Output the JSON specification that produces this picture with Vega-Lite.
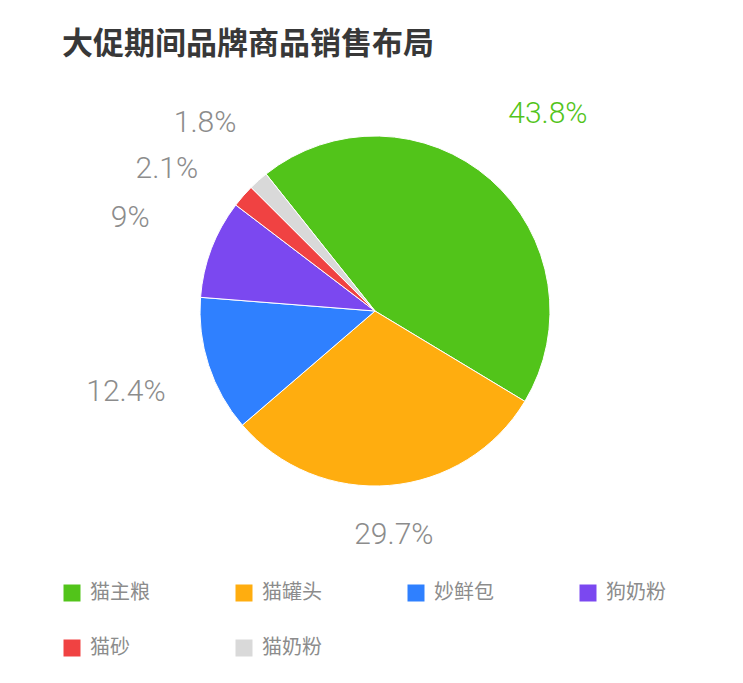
{
  "$schema": "https://vega.github.io/schema/vega-lite/v6.json",
  "width": 736,
  "height": 422,
  "autosize": {"type": "none"},
  "padding": {"left": 7, "top": 100, "right": 0, "bottom": 161},
  "background": "white",
  "title": {
    "text": "大促期间品牌商品销售布局",
    "anchor": "start",
    "dx": 55,
    "offset": 38,
    "fontSize": 31,
    "fontWeight": "bold",
    "color": "#383838",
    "font": "Noto Sans CJK SC"
  },
  "data": {
    "values": [
      {"idx": 1, "category": "猫主粮", "share": 0.438},
      {"idx": 2, "category": "猫罐头", "share": 0.297},
      {"idx": 3, "category": "妙鲜包", "share": 0.124},
      {"idx": 4, "category": "狗奶粉", "share": 0.09},
      {"idx": 5, "category": "猫砂", "share": 0.021},
      {"idx": 6, "category": "猫奶粉", "share": 0.018}
    ]
  },
  "encoding": {
    "theta": {"field": "share", "type": "quantitative", "stack": true, "scale": {"range": [-0.672, 5.611]}},
    "order": {"field": "idx", "type": "quantitative"}
  },
  "layer": [
    {
      "mark": {"type": "arc", "outerRadius": 175, "stroke": "white", "strokeWidth": 1},
      "encoding": {
        "color": {
          "field": "category",
          "type": "nominal",
          "sort": null,
          "scale": {
            "domain": ["猫主粮", "猫罐头", "妙鲜包", "狗奶粉", "猫砂", "猫奶粉"],
            "range": ["#52c41a", "#ffad0f", "#2f80ff", "#7b48f0", "#f04242", "#d9d9d9"]
          },
          "legend": {
            "title": null,
            "orient": "none",
            "legendX": 55,
            "legendY": 483,
            "direction": "horizontal",
            "columns": 4,
            "symbolType": "square",
            "symbolSize": 289,
            "symbolStrokeWidth": 0,
            "labelFontSize": 20,
            "labelColor": "#8c8c8c",
            "labelFont": "Noto Sans CJK SC",
            "labelOffset": 8,
            "columnPadding": 84,
            "rowPadding": 35,
            "padding": 0
          }
        }
      }
    },
    {
      "mark": {"type": "text", "radius": 262, "fontSize": 30, "font": "Roboto", "fontWeight": 300},
      "encoding": {
        "text": {"condition": {"test": "datum.idx == 1 || datum.idx == 3 || datum.idx == 4", "field": "share", "type": "quantitative", "format": ".1~%"}, "value": ""},
        "color": {"condition": {"test": "datum.idx == 1", "value": "#52c41a"}, "value": "#8c8c8c"}
      }
    },
    {
      "mark": {"type": "text", "radius": 225, "fontSize": 30, "font": "Roboto", "fontWeight": 300, "color": "#8c8c8c"},
      "encoding": {
        "text": {"condition": {"test": "datum.idx == 2", "field": "share", "type": "quantitative", "format": ".1~%"}, "value": ""}
      }
    },
    {
      "mark": {"type": "text", "radius": 255, "dx": -16, "dy": 26, "fontSize": 30, "font": "Roboto", "fontWeight": 300, "color": "#8c8c8c"},
      "encoding": {
        "text": {"condition": {"test": "datum.idx == 5", "field": "share", "type": "quantitative", "format": ".1~%"}, "value": ""}
      }
    },
    {
      "mark": {"type": "text", "radius": 255, "dy": 2, "fontSize": 30, "font": "Roboto", "fontWeight": 300, "color": "#8c8c8c"},
      "encoding": {
        "text": {"condition": {"test": "datum.idx == 6", "field": "share", "type": "quantitative", "format": ".1~%"}, "value": ""}
      }
    }
  ],
  "config": {"view": {"stroke": null}}
}
